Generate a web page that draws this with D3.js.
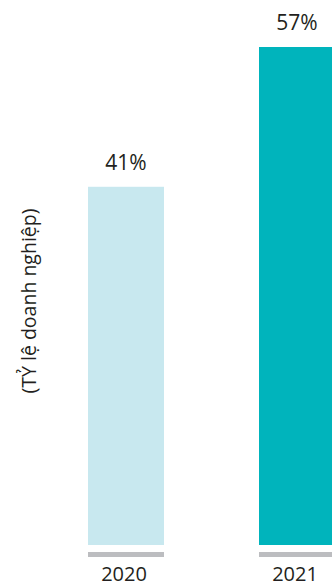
<!DOCTYPE html>
<html>
<head>
<meta charset="utf-8">
<script src="https://cdn.jsdelivr.net/npm/d3@7"></script>
<style>
html,body{margin:0;padding:0;background:#fff;overflow:hidden;}
svg{display:block;}
text{font-family:"Open Sans",sans-serif;fill:#231f20;}
</style>
</head>
<body>
<svg id="chart" width="332" height="587"></svg>
<script>
const categories = ["2020", "2021"];
const values = [41, 57];
const valueLabels = ["41%", "57%"];
const barColors = ["#c8e8ef", "#00b4bc"];
const axisTitle = "(TỶ lệ doanh nghiệp)";

const svg = d3.select("#chart");

const x = d3.scaleBand()
  .domain(categories)
  .range([88, 335])
  .paddingInner(1 - 76 / 171)
  .paddingOuter(0);

const y = d3.scaleLinear()
  .domain([0, 57])
  .range([545, 47]);

// bars
svg.selectAll("rect.bar")
  .data(categories)
  .enter().append("rect")
  .attr("class", "bar")
  .attr("x", d => x(d))
  .attr("width", x.bandwidth())
  .attr("y", (d, i) => y(values[i]))
  .attr("height", (d, i) => y(0) - y(values[i]))
  .attr("fill", (d, i) => barColors[i]);

// baseline segments under each bar
svg.selectAll("rect.base")
  .data(categories)
  .enter().append("rect")
  .attr("class", "base")
  .attr("x", d => x(d))
  .attr("width", x.bandwidth())
  .attr("y", y(0) + 7)
  .attr("height", 5)
  .attr("fill", "#bcbdc0");

// value labels
svg.selectAll("text.val")
  .data(categories)
  .enter().append("text")
  .attr("class", "val")
  .attr("x", d => x(d) + x.bandwidth() / 2)
  .attr("y", (d, i) => y(values[i]) - 17)
  .attr("text-anchor", "middle")
  .style("font-size", "21px")
  .text((d, i) => valueLabels[i]);

// category labels
svg.selectAll("text.cat")
  .data(categories)
  .enter().append("text")
  .attr("class", "cat")
  .attr("x", d => x(d) + x.bandwidth() / 2 - 2)
  .attr("y", 581)
  .attr("text-anchor", "middle")
  .style("font-size", "20px")
  .text(d => d);

// y-axis title
svg.append("text")
  .attr("transform", "translate(36,301) rotate(-90)")
  .attr("text-anchor", "middle")
  .style("font-size", "19.5px")
  .text(axisTitle);
</script>
</body>
</html>
